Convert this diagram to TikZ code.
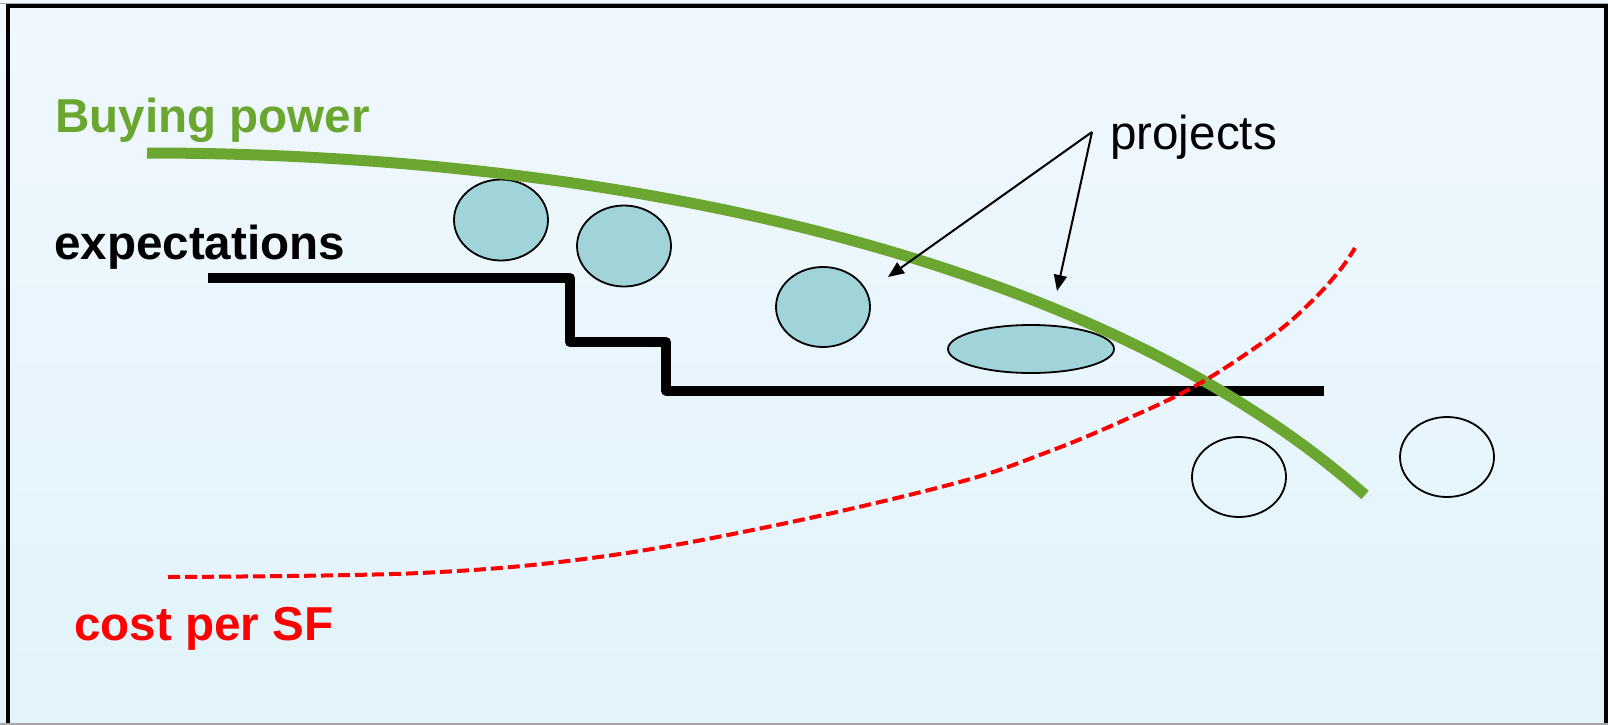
\documentclass[tikz,border=0pt]{standalone}
\usepackage{fontspec}
\setmainfont{Liberation Sans}
\usetikzlibrary{arrows.meta,shapes.geometric}
\definecolor{bggtop}{RGB}{240,248,254}
\definecolor{bggbot}{RGB}{226,243,251}
\definecolor{buygreen}{RGB}{107,166,48}
\definecolor{projteal}{RGB}{160,212,216}
\definecolor{costred}{RGB}{255,0,0}
\tikzset{
  lbl/.style={inner sep=0pt, anchor=base west, font=\fontsize{47.6}{57}\selectfont},
  proj/.style={ellipse, draw=black, line width=1.8, fill=projteal, inner sep=0pt},
  emptyproj/.style={ellipse, draw=black, line width=1.8, inner sep=0pt},
  pointer/.style={draw=black, line width=2, -{Triangle[length=16,width=13]}},
}
\begin{document}
\begin{tikzpicture}[x=1pt,y=-1pt]
\useasboundingbox (0,0) rectangle (1608,725);
\clip (0,0) rectangle (1608,725);
% background
\shade[top color=bggtop, bottom color=bggbot] (0,0) rectangle (1608,725);
% frame
\draw[gray!70, line width=1] (0,3.5) -- (1608,3.5);
\draw[black, line width=4] (8,760) -- (8,6.5) -- (1606,6.5) -- (1606,760);
\draw[gray!70, line width=2] (0,724) -- (1608,724);

% labels
\node[lbl, text=buygreen] (buy) at (55,132) {\bfseries Buying power};
\node[lbl, text=black] (expect) at (54,259) {\bfseries expectations};
\node[lbl, text=costred] (cost) at (74,640) {\bfseries cost per SF};
\node[lbl, text=black] (projects) at (1110,149) {projects};

% projects (ellipses)
\node[proj, minimum width=94, minimum height=81] (p1) at (501,220) {};
\node[proj, minimum width=94, minimum height=81] (p2) at (624,246) {};
\node[proj, minimum width=94, minimum height=80] (p3) at (823,307) {};
\node[proj, minimum width=166, minimum height=48] (p4) at (1031,349) {};
\node[emptyproj, minimum width=94, minimum height=80] (p5) at (1239,477) {};
\node[emptyproj, minimum width=94, minimum height=80] (p6) at (1447,457) {};

% expectations staircase
\draw[black, line width=10, line join=round] (208,278) -- (570,278) -- (570,342) -- (666,342) -- (666,390.5) -- (1324,390.5);

% buying power curve
\draw[buygreen, line width=11] (147,153) .. controls (600,153) and (1092,252) .. (1365,495);

% cost per SF curve
\draw[costred, line width=4, dash pattern=on 12 off 5] plot[smooth, tension=0.6] coordinates {(168,577) (420,573) (599,557) (777,525) (956,483) (1045,453) (1120,422) (1197,385) (1273,335) (1313,300) (1340,270) (1355,248)};

% pointers
\coordinate (apex) at (1092,132);
\coordinate (tipA) at (888,277);
\coordinate (tipB) at (1057,291);
\draw[pointer] (apex) -- (tipA);
\draw[pointer] (apex) -- (tipB);
\end{tikzpicture}
\end{document}
